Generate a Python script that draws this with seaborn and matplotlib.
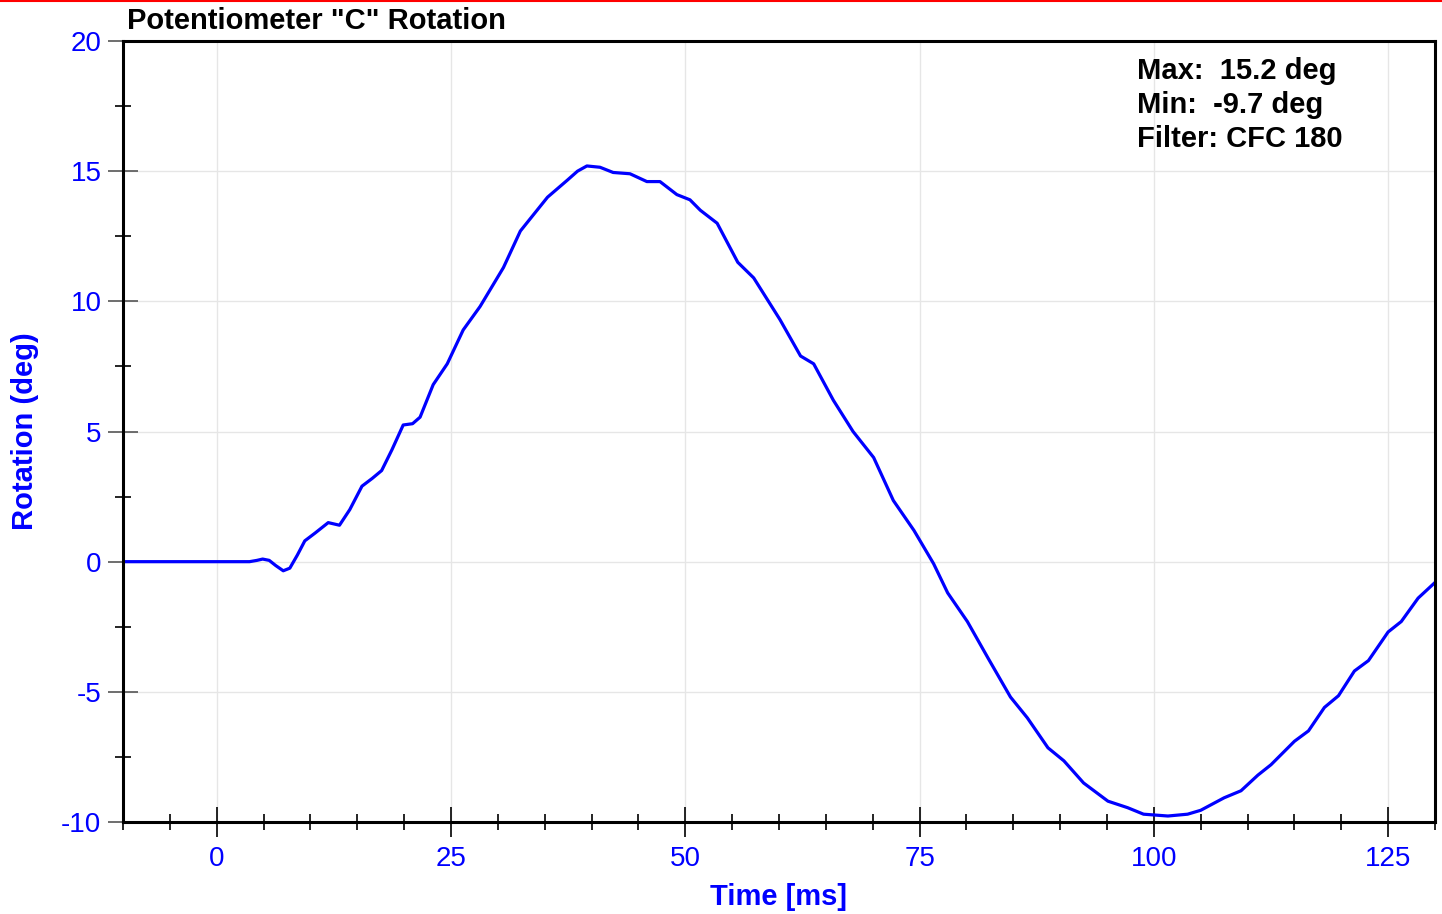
import numpy as np
import pandas as pd
import matplotlib
matplotlib.use("Agg")
import matplotlib.pyplot as plt
from matplotlib.ticker import MultipleLocator
from matplotlib.lines import Line2D
import seaborn as sns

# Valores
time_ms = [-10.0, 0.0, 3.5, 4.3, 4.9, 5.6, 6.3, 7.1, 7.8, 8.6, 9.4, 10.5, 11.9, 12.5, 13.1,
           14.2, 15.5, 16.6, 17.6, 18.7, 19.9, 20.9, 21.7, 23.1, 24.6, 26.3, 28.1,
           30.6, 32.4, 35.3, 37.4, 38.5, 39.5, 40.9, 42.3, 44.1, 45.9, 47.3, 49.1,
           50.5, 51.6, 53.4, 55.6, 57.3, 60.1, 62.3, 63.7, 65.8, 67.9, 70.1, 72.2,
           74.4, 76.5, 78.0, 80.1, 82.3, 84.7, 86.5, 88.7, 90.4, 92.5, 95.1, 97.2,
           98.9, 101.5, 103.6, 105.0, 107.5, 109.3, 111.1, 112.5, 115.0, 116.5,
           118.2, 119.7, 121.4, 122.9, 125.0, 126.4, 128.2, 130.0]
rotation_deg = [0.0, 0.0, 0.0, 0.05, 0.1, 0.05, -0.15, -0.35, -0.25, 0.25, 0.8, 1.1, 1.5, 1.45, 1.4,
                2.0, 2.9, 3.2, 3.5, 4.3, 5.25, 5.3, 5.55, 6.8, 7.6, 8.9, 9.8,
                11.3, 12.7, 14.0, 14.65, 15.0, 15.2, 15.15, 14.95, 14.9, 14.6, 14.6, 14.1,
                13.9, 13.5, 13.0, 11.5, 10.9, 9.3, 7.9, 7.6, 6.2, 5.0, 4.0, 2.35,
                1.2, -0.08, -1.2, -2.3, -3.7, -5.2, -6.0, -7.15, -7.65, -8.5, -9.2, -9.45,
                -9.7, -9.77, -9.7, -9.55, -9.07, -8.8, -8.2, -7.8, -6.9, -6.5,
                -5.6, -5.15, -4.2, -3.8, -2.7, -2.3, -1.4, -0.8]

x_ticks = [0, 25, 50, 75, 100, 125]
y_ticks = [-10, -5, 0, 5, 10, 15, 20]
stats_text = "Max:  15.2 deg\nMin:  -9.7 deg\nFilter: CFC 180"

sns.set_style("white")
plt.rcParams['font.family'] = ['Liberation Sans', 'DejaVu Sans']
plt.rcParams['axes.unicode_minus'] = False

df = pd.DataFrame({"Time": time_ms, "Rotation": rotation_deg})

fig = plt.figure(figsize=(14.42, 9.14), dpi=100)
ax = fig.add_axes([123/1442, 92/914, 1312/1442, 781/914])

sns.lineplot(data=df, x="Time", y="Rotation", color="#0000ff", linewidth=2.3, ax=ax)

ax.set_xlim(-10, 130)
ax.set_ylim(-10, 20)
ax.set_xticks(x_ticks)
ax.set_yticks(y_ticks)
ax.xaxis.set_minor_locator(MultipleLocator(5))
ax.yaxis.set_minor_locator(MultipleLocator(2.5))
ax.grid(True, which="major", color="#e6e6e6", linewidth=1.0)
ax.set_axisbelow(True)

for s in ax.spines.values():
    s.set_color("black")
    s.set_linewidth(2.2)

ax.tick_params(axis="x", which="both", bottom=True)
ax.tick_params(axis="y", which="both", left=True)
ax.tick_params(axis="x", which="major", direction="inout", length=21, width=1.2,
               color="black", labelcolor="#0000ff", labelsize=20, pad=7)
ax.tick_params(axis="x", which="minor", direction="inout", length=11, width=1.2, color="black")
ax.tick_params(axis="y", which="major", direction="inout", length=21, width=1.2,
               color="#555555", labelcolor="#0000ff", labelsize=20, pad=5)
ax.tick_params(axis="y", which="minor", direction="inout", length=11, width=1.2, color="black")

ax.set_xlabel("Time [ms]", color="#0000ff", fontsize=21, fontweight="bold", labelpad=8)
ax.set_ylabel("Rotation (deg)", color="#0000ff", fontsize=21, fontweight="bold", labelpad=16)

fig.text(127/1442, 1 - 29/914, 'Potentiometer "C" Rotation', fontsize=21,
         fontweight="bold", color="black", va="baseline", ha="left")

ax.text(0.773, 0.98, stats_text, transform=ax.transAxes, fontsize=21,
        fontweight="bold", color="black", va="top", ha="left", linespacing=1.28)

fig.add_artist(Line2D([0, 1], [0.999, 0.999], color="red", linewidth=1.5,
                      transform=fig.transFigure))

fig.savefig("out.png", dpi=100)
